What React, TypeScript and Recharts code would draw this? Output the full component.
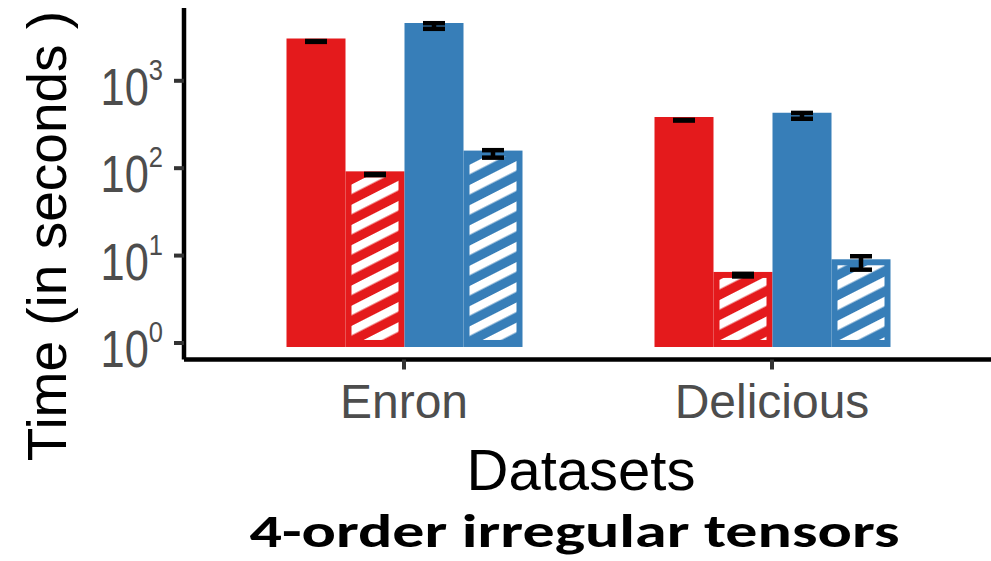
import React from "react";
import { Bar, BarChart, ErrorBar, XAxis, YAxis } from "recharts";

// values (seconds, log axis)
const categories = ["Enron", "Delicious"];

const redSolid = [3050, 385];
const redSolidLow = [2790, 351];
const redSolidHigh = [2850, 357];

const redHatched = [92, 6.5];
const redHatchedLow = [83.4, 5.77];
const redHatchedHigh = [86, 6.18];

const blueSolid = [4580, 431];
const blueSolidLow = [3935, 368];
const blueSolidHigh = [4560, 429];

const blueHatched = [159, 9.07];
const blueHatchedLow = [132, 6.9];
const blueHatchedHigh = [160.7, 9.82];

const yTicks = [1, 10, 100, 1000];
const BAR_BASE = 0.9;

const RED = "#E41A1C";
const BLUE = "#377EB8";
const GREY = "#4d4d4d";
const FONT = "Arial, 'Liberation Sans', Helvetica, sans-serif";

const data = categories.map((name, i) => ({
  name,
  redSolid: [BAR_BASE, redSolid[i]],
  redSolidErr: [redSolid[i] - redSolidLow[i], redSolidHigh[i] - redSolid[i]],
  redHatched: [BAR_BASE, redHatched[i]],
  redHatchedErr: [redHatched[i] - redHatchedLow[i], redHatchedHigh[i] - redHatched[i]],
  blueSolid: [BAR_BASE, blueSolid[i]],
  blueSolidErr: [blueSolid[i] - blueSolidLow[i], blueSolidHigh[i] - blueSolid[i]],
  blueHatched: [BAR_BASE, blueHatched[i]],
  blueHatchedErr: [blueHatched[i] - blueHatchedLow[i], blueHatchedHigh[i] - blueHatched[i]],
}));

function HatchedBar(props: any) {
  const { x, y, width, height, fill } = props;
  if (!width || !height) return null;
  return (
    <g>
      <rect x={x} y={y} width={width} height={height} fill={fill} />
      <rect
        x={x + 6}
        y={y + 6}
        width={Math.max(0, width - 12)}
        height={Math.max(0, height - 13)}
        fill="url(#stripes)"
      />
    </g>
  );
}

function YTick({ x, y, payload }: any) {
  const exp = Math.round(Math.log10(payload.value));
  return (
    <text
      transform={`translate(${x - 9},${y + 24}) scale(0.85,1)`}
      textAnchor="end"
      fill={GREY}
      fontFamily={FONT}
      fontSize={51}
    >
      10
      <tspan fontSize={30} dy={-25}>
        {exp}
      </tspan>
    </text>
  );
}

function XTick({ x, y, payload }: any) {
  return (
    <text x={x} y={y + 46.5} textAnchor="middle" fill={GREY} fontFamily={FONT} fontSize={48}>
      {payload.value}
    </text>
  );
}

const errProps = {
  stroke: "#000",
  strokeWidth: 4.5,
  width: 11,
  direction: "y" as const,
  isAnimationActive: false,
};

export default function App() {
  return (
    <div style={{ position: "absolute", left: 0, top: 0, width: 991, height: 561, background: "#fff" }}>
      <svg width={0} height={0} style={{ position: "absolute" }}>
        <defs>
          <pattern
            id="stripes"
            patternUnits="userSpaceOnUse"
            width={18}
            height={18}
            patternTransform="rotate(-27)"
          >
            <rect x={0} y={0} width={18} height={8.5} fill="#fff" />
          </pattern>
        </defs>
      </svg>
      <BarChart
        width={991}
        height={561}
        data={data}
        margin={{ top: 8, right: 0, bottom: 0, left: 0 }}
        barCategoryGap={66.5}
        barGap={0}
      >
        <XAxis
          dataKey="name"
          type="category"
          interval={0}
          height={201.5}
          padding={{ left: 36, right: 35 }}
          tickSize={10}
          axisLine={{ stroke: "#000", strokeWidth: 4.5 }}
          tickLine={{ stroke: "#333", strokeWidth: 4 }}
          tick={<XTick />}
        />
        <YAxis
          type="number"
          scale="log"
          domain={[0.647, 6808]}
          allowDataOverflow
          ticks={yTicks}
          width={184}
          tickSize={10}
          axisLine={{ stroke: "#000", strokeWidth: 4.5 }}
          tickLine={{ stroke: "#333", strokeWidth: 4 }}
          tick={<YTick />}
        />
        <Bar dataKey="redSolid" fill={RED} isAnimationActive={false}>
          <ErrorBar dataKey="redSolidErr" {...errProps} />
        </Bar>
        <Bar dataKey="redHatched" fill={RED} shape={<HatchedBar />} isAnimationActive={false}>
          <ErrorBar dataKey="redHatchedErr" {...errProps} />
        </Bar>
        <Bar dataKey="blueSolid" fill={BLUE} isAnimationActive={false}>
          <ErrorBar dataKey="blueSolidErr" {...errProps} />
        </Bar>
        <Bar dataKey="blueHatched" fill={BLUE} shape={<HatchedBar />} isAnimationActive={false}>
          <ErrorBar dataKey="blueHatchedErr" {...errProps} />
        </Bar>
      </BarChart>
      <svg
        width={991}
        height={561}
        style={{ position: "absolute", left: 0, top: 0, pointerEvents: "none" }}
      >
        <text
          transform="translate(66,236) rotate(-90)"
          textAnchor="middle"
          fontFamily={FONT}
          fontSize={55}
          fill="#000"
        >
          Time (in seconds )
        </text>
        <text x={581} y={490} textAnchor="middle" fontFamily={FONT} fontSize={58} fill="#000">
          Datasets
        </text>
        <text
          x={574.5}
          y={547}
          textAnchor="middle"
          fontFamily="Carlito, Lato, 'Open Sans', sans-serif"
          fontWeight="bold"
          fontSize={47}
          textLength={650}
          lengthAdjust="spacingAndGlyphs"
          fill="#000"
        >
          4-order irregular tensors
        </text>
      </svg>
    </div>
  );
}
